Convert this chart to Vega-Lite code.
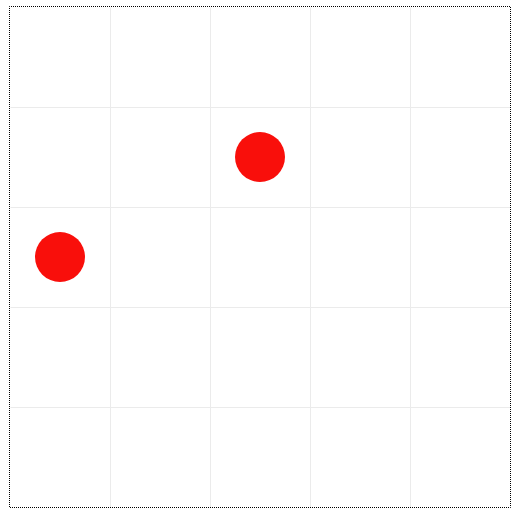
{
  "$schema": "https://vega.github.io/schema/vega-lite/v6.json",
  "width": 500,
  "height": 500,
  "autosize": {"type": "none"},
  "padding": {"left": 10, "top": 7, "right": 10, "bottom": 7},
  "background": "white",
  "config": {"view": {"stroke": null}},
  "layer": [
    {
      "data": {"values": [
        {"x": 0.5, "y": 2.5},
        {"x": 2.5, "y": 3.5}
      ]},
      "mark": {"type": "circle", "opacity": 1, "color": "#f90f0b", "size": 2500},
      "encoding": {
        "x": {"field": "x", "type": "quantitative", "scale": {"domain": [0, 5], "nice": false, "zero": false},
          "axis": {"values": [1, 2, 3, 4], "labels": false, "ticks": false, "domain": false, "title": null, "grid": true, "gridColor": "#ebebeb"}},
        "y": {"field": "y", "type": "quantitative", "scale": {"domain": [0, 5], "nice": false, "zero": false},
          "axis": {"values": [1, 2, 3, 4], "labels": false, "ticks": false, "domain": false, "title": null, "grid": true, "gridColor": "#ebebeb"}}
      }
    },
    {
      "data": {"values": [{}]},
      "mark": {"type": "rect", "fill": null, "stroke": "black", "strokeWidth": 1, "strokeDash": [1, 1], "strokeDashOffset": 0.5,
        "xOffset": -0.5, "x2Offset": 0.5, "yOffset": 0.5, "y2Offset": -0.5},
      "encoding": {
        "x": {"datum": 0, "type": "quantitative"},
        "x2": {"datum": 5},
        "y": {"datum": 0, "type": "quantitative"},
        "y2": {"datum": 5}
      }
    }
  ]
}
